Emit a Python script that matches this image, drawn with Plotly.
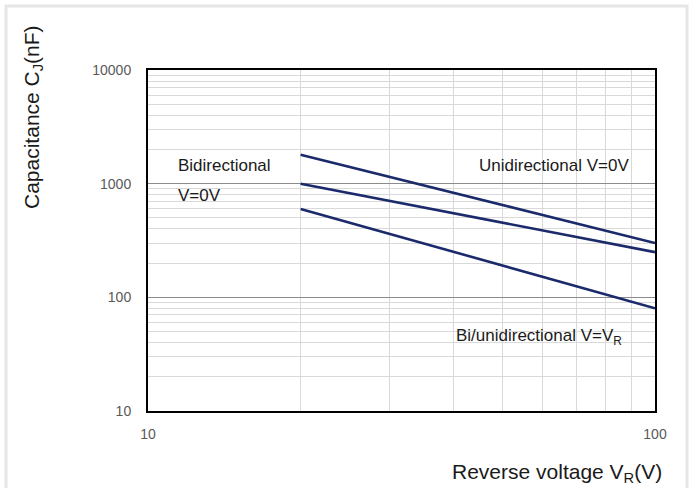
import plotly.graph_objects as go

# Data
x_bi0 = [20, 100]
y_bi0 = [1800, 300]   # upper line
x_uni0 = [20, 100]
y_uni0 = [1000, 250]  # middle line
x_vr = [20, 100]
y_vr = [600, 80]      # lower line

x_ticks = [10, 100]
y_ticks = [10, 100, 1000, 10000]
x_minor = [20, 30, 40, 50, 60, 70, 80, 90]
y_minor = [m * d for d in (10, 100, 1000) for m in range(2, 10)]

LINE = "#1b2a6b"
W, H = 696, 488
L, R, T, B = 148, 41, 70, 77
PW, PH = W - L - R, H - T - B

def px(x):
    return (x - L) / PW

def py(y):
    return (H - B - y) / PH

fig = go.Figure()
for xs, ys in ((x_bi0, y_bi0), (x_uni0, y_uni0), (x_vr, y_vr)):
    fig.add_trace(go.Scatter(x=xs, y=ys, mode="lines",
                             line=dict(color=LINE, width=2.6),
                             showlegend=False, hoverinfo="skip"))

tickfont = dict(family="Liberation Sans, Arial, sans-serif", size=14, color="#595959")

fig.update_xaxes(type="log", range=[1, 2], tickmode="array", tickvals=x_ticks,
                 ticktext=[str(v) for v in x_ticks], showgrid=False,
                 ticks="outside", ticklen=9, tickcolor="rgba(0,0,0,0)",
                 tickfont=tickfont, showline=True, linecolor="black", linewidth=2,
                 mirror=True, zeroline=False,
                 minor=dict(tickmode="array", tickvals=x_minor, showgrid=True,
                            gridcolor="#d9d9d9", gridwidth=1, ticks=""))
fig.update_yaxes(type="log", range=[1, 4], tickmode="array", tickvals=y_ticks,
                 ticktext=[str(v) for v in y_ticks], showgrid=True,
                 gridcolor="#8c8c8c", gridwidth=1,
                 ticks="outside", ticklen=12, tickcolor="rgba(0,0,0,0)",
                 tickfont=tickfont, showline=True, linecolor="black", linewidth=2,
                 mirror=True, zeroline=False,
                 minor=dict(tickmode="array", tickvals=y_minor, showgrid=True,
                            gridcolor="#d9d9d9", gridwidth=1, ticks=""))

shapes = []
# outer frame
shapes.append(dict(type="rect", xref="paper", yref="paper",
                   x0=px(6), x1=px(687), y0=py(6), y1=py(492),
                   line=dict(color="#e6e6e6", width=3), fillcolor="rgba(0,0,0,0)",
                   layer="below"))
# white label boxes
for (x0, x1, y0, y1) in ((169, 290, 148, 210), (470, 646, 147, 183), (447, 637, 315, 353)):
    shapes.append(dict(type="rect", xref="paper", yref="paper",
                       x0=px(x0), x1=px(x1), y0=py(y1), y1=py(y0),
                       line=dict(width=0), fillcolor="white", layer="between"))
fig.update_layout(shapes=shapes)

lblfont = dict(family="Liberation Sans, Arial, sans-serif", size=17, color="#1a1a1a")
ann = []
for text, x, y in (("Bidirectional", 176, 165), ("V=0V", 176, 195),
                   ("Unidirectional V=0V", 477, 165),
                   ("Bi/unidirectional V=V<sub>R</sub>", 454, 337)):
    ann.append(dict(text=text, xref="paper", yref="paper", x=px(x), y=py(y),
                    xanchor="left", yanchor="middle", showarrow=False, font=lblfont))

titlefont = dict(family="Liberation Sans, Arial, sans-serif", size=21, color="#1a1a1a")
ann.append(dict(text="Capacitance C<sub>J</sub>(nF)", xref="paper", yref="paper",
                x=px(33), y=py(117), xanchor="center", yanchor="middle",
                textangle=-90, showarrow=False, font=titlefont))
ann.append(dict(text="Reverse voltage V<sub>R</sub>(V)", xref="paper", yref="paper",
                x=px(664), y=py(473), xanchor="right", yanchor="middle",
                showarrow=False, font=titlefont))

fig.update_layout(width=W, height=H, margin=dict(l=L, r=R, t=T, b=B),
                  paper_bgcolor="white", plot_bgcolor="white", annotations=ann,
                  showlegend=False)

fig.write_html("out.html", config={"displayModeBar": False},
               post_script="document.body.style.margin='0';document.body.style.overflow='hidden';")
